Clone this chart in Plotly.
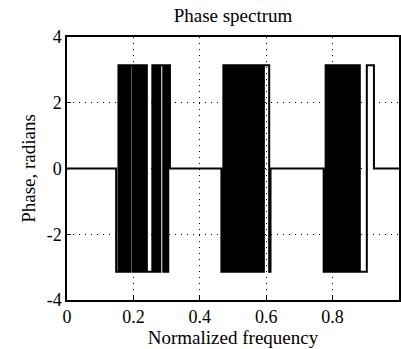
import numpy as np
import plotly.graph_objects as go

P = np.pi
# Jump frequencies (normalized) and the phase value (in units of pi) reached at each jump
band1_f = [0.148, 0.155, 0.161, 0.167, 0.173, 0.179, 0.185, 0.191, 0.198, 0.204, 0.210, 0.216,
           0.222, 0.228, 0.233, 0.237, 0.2405, 0.257, 0.263, 0.269, 0.275, 0.281, 0.290, 0.295,
           0.300, 0.305, 0.310]
band1_v = [-1, 1, -1, 1, -1, 1, -1, 1, -1, 1, -1, 1,
           -1, 1, -1, 1, -1, 1, -1, 1, -1, 1, -1, 1,
           -1, 1, 0]

band2_f = [0.465, 0.471, 0.477, 0.482, 0.488, 0.494, 0.500, 0.505, 0.511, 0.517, 0.522, 0.528,
           0.534, 0.540, 0.545, 0.551, 0.557, 0.562, 0.568, 0.574, 0.579, 0.585, 0.590, 0.593,
           0.609, 0.613]
band2_v = [-1, 1, -1, 1, -1, 1, -1, 1, -1, 1, -1, 1,
           -1, 1, -1, 1, -1, 1, -1, 1, -1, 1, -1, 1,
           -1, 0]

band3_f = [0.773, 0.779, 0.785, 0.790, 0.796, 0.802, 0.807, 0.813, 0.819, 0.824, 0.830, 0.836,
           0.841, 0.847, 0.853, 0.858, 0.864, 0.870, 0.875, 0.879, 0.882, 0.903, 0.9245]
band3_v = [-1, 1, -1, 1, -1, 1, -1, 1, -1, 1, -1, 1,
           -1, 1, -1, 1, -1, 1, -1, 1, -1, 1, 0]

x_ticks = [0, 0.2, 0.4, 0.6, 0.8]
x_labels = ["0", "0.2", "0.4", "0.6", "0.8"]
y_ticks = [-4, -2, 0, 2, 4]
y_labels = ["-4", "-2", "0", "2", "4"]

freq = [0.0]
phase = [0.0]
for fl, vl in ((band1_f, band1_v), (band2_f, band2_v), (band3_f, band3_v)):
    for f, v in zip(fl, vl):
        freq.append(f)
        phase.append(v * P)
freq.append(1.0)
phase.append(0.0)

fig = go.Figure(go.Scatter(x=freq, y=phase, mode="lines", line_shape="hv",
                           line=dict(color="black", width=2), showlegend=False))

font = dict(family="Liberation Serif", color="black")
fig.update_layout(
    width=401, height=349,
    margin=dict(l=67, r=0, t=37, b=49),
    paper_bgcolor="white", plot_bgcolor="white",
    title=dict(text="Phase spectrum", xref="paper", x=0.5, xanchor="center",
               yref="container", y=0.955, yanchor="middle",
               font=dict(size=19, **font)),
    font=dict(size=17, **font),
)
grid = dict(showgrid=True, gridcolor="black", griddash="1px,5px", gridwidth=1.2,
            ticks="inside", ticklen=4, tickcolor="black", showline=True, linecolor="black",
            linewidth=1.5, mirror=True, zeroline=False)
fig.update_xaxes(range=[0, 1], tickvals=x_ticks, ticktext=x_labels,
                 title=dict(text="Normalized frequency", font=dict(size=19, **font), standoff=0),
                 tickfont=dict(size=18, **font), **grid)
fig.update_yaxes(range=[-4, 4], tickvals=y_ticks, ticktext=y_labels,
                 title=dict(text="Phase, radians", font=dict(size=19, **font), standoff=6),
                 tickfont=dict(size=18, **font), **grid)
fig.write_html("out.html")
